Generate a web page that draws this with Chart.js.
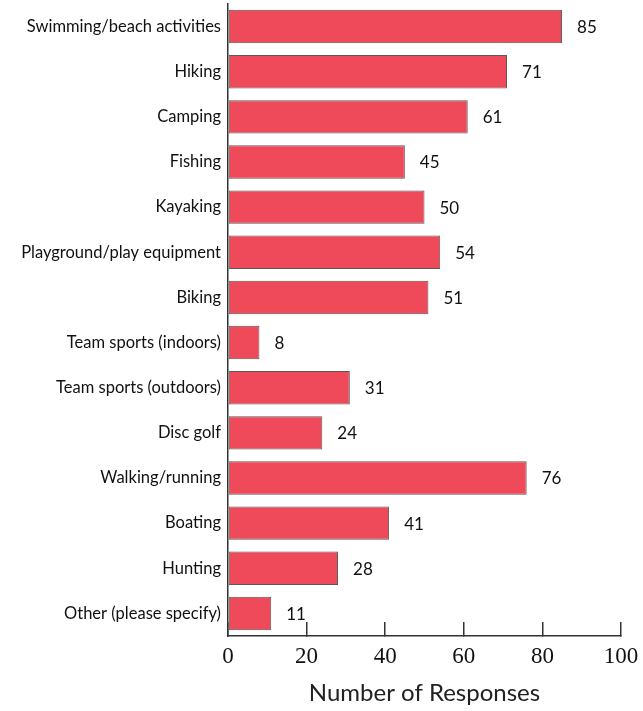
<!DOCTYPE html>
<html>
<head>
<meta charset="utf-8">
<script src="https://cdn.jsdelivr.net/npm/chart.js@4.4.0/dist/chart.umd.min.js"></script>
<style>
  html, body { margin: 0; padding: 0; background: #fff; }
  #wrap { width: 643px; height: 711px; }
</style>
</head>
<body>
<div id="wrap"><canvas id="chart"></canvas></div>
<script>
// survey answers
var activities = [
  "Swimming/beach activities", "Hiking", "Camping", "Fishing", "Kayaking",
  "Playground/play equipment", "Biking", "Team sports (indoors)",
  "Team sports (outdoors)", "Disc golf", "Walking/running", "Boating",
  "Hunting", "Other (please specify)"
];
var responses = [85, 71, 61, 45, 50, 54, 51, 8, 31, 24, 76, 41, 28, 11];
var xTicks = [0, 20, 40, 60, 80, 100];

// writes the count just past the end of each bar
var valueLabels = {
  id: "valueLabels",
  afterDatasetsDraw(chart) {
    var ctx = chart.ctx;
    var meta = chart.getDatasetMeta(0);
    ctx.save();
    ctx.font = "17px Lato";
    ctx.fillStyle = "#111";
    ctx.textAlign = "left";
    ctx.textBaseline = "middle";
    meta.data.forEach(function (bar, i) {
      ctx.fillText(responses[i], bar.x + 15, bar.y + 1);
    });
    ctx.restore();
  }
};

new Chart(document.getElementById("chart"), {
  type: "bar",
  data: {
    labels: activities,
    datasets: [{
      data: responses,
      backgroundColor: "#ef4a5a",
      borderColor: "#5a5a5a",
      borderWidth: 1,
      borderSkipped: false,
      barPercentage: 0.74,
      categoryPercentage: 1.0
    }]
  },
  options: {
    indexAxis: "y",
    responsive: true,
    maintainAspectRatio: false,
    animation: false,
    layout: { padding: { top: 4, right: 22, left: 0, bottom: 0 } },
    plugins: {
      legend: { display: false },
      tooltip: { enabled: false }
    },
    scales: {
      x: {
        min: 0,
        max: 100,
        afterFit: function (scale) {
          scale.height = 75;
          scale.paddingLeft = 0;
          scale.paddingRight = 0;
        },
        afterBuildTicks: function (scale) {
          scale.ticks = xTicks.map(function (v) { return { value: v }; });
        },
        grid: {
          drawOnChartArea: false,
          tickLength: -14,
          color: "#333",
          lineWidth: 1.5
        },
        border: { color: "#333", width: 1.5 },
        ticks: {
          color: "#111",
          font: { family: "Liberation Serif", size: 23 },
          padding: 21,
          maxRotation: 0
        },
        title: {
          display: true,
          text: "Number of Responses",
          color: "#222",
          font: { family: "Lato", size: 24 },
          padding: { top: 0, bottom: 3 }
        }
      },
      y: {
        afterFit: function (scale) {
          scale.width = 228;
          scale.paddingTop = 0;
          scale.paddingBottom = 0;
        },
        grid: { display: false, drawTicks: false },
        border: { color: "#333", width: 1.5 },
        ticks: {
          color: "#111",
          font: { family: "Lato", size: 16.5 },
          padding: 7
        }
      }
    }
  },
  plugins: [valueLabels]
});
</script>
</body>
</html>
